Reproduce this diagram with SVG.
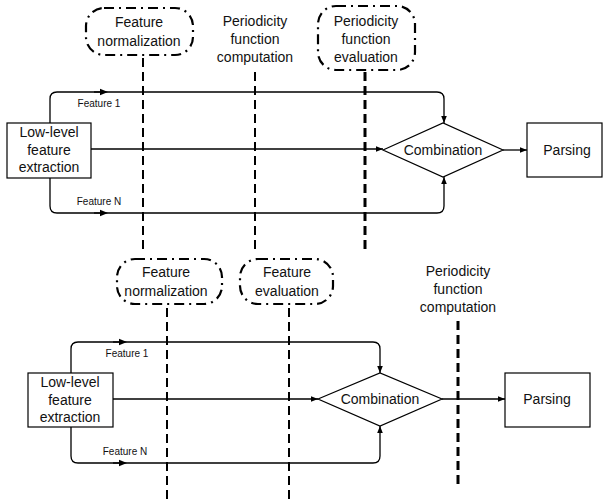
<svg xmlns="http://www.w3.org/2000/svg" width="603" height="501" viewBox="0 0 603 501">
<defs>
<marker id="ah" viewBox="0 0 10 10" refX="10" refY="5" markerWidth="7" markerHeight="7" markerUnits="userSpaceOnUse" orient="auto">
<path d="M0,1 L10,5 L0,9 Z" fill="#000"/>
</marker>
<marker id="mid" viewBox="0 0 10 10" refX="5" refY="5" markerWidth="8" markerHeight="8" markerUnits="userSpaceOnUse" orient="auto">
<path d="M0,1 L10,5 L0,9 Z" fill="#000"/>
</marker>
</defs>
<style>
text{font-family:"Liberation Sans",Arial,sans-serif;fill:#111;text-anchor:middle}
.t{font-size:14px}
.s{font-size:10px}
.box{fill:#fff;stroke:#000;stroke-width:1.2}
.ln{fill:none;stroke:#000;stroke-width:1.3}
.bub{fill:none;stroke:#000;stroke-width:2.2;stroke-dasharray:10,5,2,5}
.dv{fill:none;stroke:#000;stroke-width:2;stroke-dasharray:9,5}
.dvt{fill:none;stroke:#000;stroke-width:3;stroke-dasharray:9,5}
</style>
<rect width="603" height="501" fill="#fff"/>

<g id="connectors">
<path class="ln" d="M50,123 V99 Q50,92 57,92 H437 Q444,92 444,99 V123" marker-end="url(#ah)"/>
<path class="ln" d="M50,178 V206 Q50,213 57,213 H437 Q444,213 444,206 V177" marker-end="url(#ah)"/>
<path class="ln" d="M91,149 H383" marker-end="url(#ah)"/>
<path class="ln" d="M503,150 H527" marker-end="url(#ah)"/>
<path class="ln" d="M94,92 H104" marker-end="url(#mid)"/>
<path class="ln" d="M94,213 H104" marker-end="url(#mid)"/>
<path class="ln" d="M71,373 V349 Q71,342 78,342 H373 Q380,342 380,349 V373" marker-end="url(#ah)"/>
<path class="ln" d="M71,427 V456 Q71,463 78,463 H373 Q380,463 380,456 V426" marker-end="url(#ah)"/>
<path class="ln" d="M113,399 H318" marker-end="url(#ah)"/>
<path class="ln" d="M442,399 H505" marker-end="url(#ah)"/>
<path class="ln" d="M113,342 H123" marker-end="url(#mid)"/>
<path class="ln" d="M113,463 H123" marker-end="url(#mid)"/>
</g>

<g id="stage-lines">
<path class="dv" d="M143,58 V250"/>
<path class="dv" d="M255,72 V250"/>
<path class="dvt" d="M365,72 V250"/>
<path class="dv" d="M167,308 V501"/>
<path class="dv" d="M289,308 V501"/>
<path class="dvt" d="M458,321 V486"/>
</g>

<g id="top-lowlevel">
<rect class="box" x="7" y="123" width="84" height="55"/>
<text class="t" x="49" y="137">Low-level</text>
<text class="t" x="49" y="155">feature</text>
<text class="t" x="49" y="172">extraction</text>
</g>
<g id="top-feature1"><text class="s" x="99" y="107">Feature 1</text></g>
<g id="top-featureN"><text class="s" x="99" y="205">Feature N</text></g>
<g id="top-combination">
<path class="box" d="M383,150 L443,123 L503,150 L443,177 Z"/>
<text class="t" x="443" y="155">Combination</text>
</g>
<g id="top-parsing">
<rect class="box" x="527" y="123" width="75" height="54"/>
<text class="t" x="567" y="155">Parsing</text>
</g>
<g id="top-norm">
<rect class="bub" x="86" y="8" width="107" height="47" rx="18"/>
<text class="t" x="139" y="27">Feature</text>
<text class="t" x="139" y="46">normalization</text>
</g>
<g id="top-pfc">
<text class="t" x="255" y="26">Periodicity</text>
<text class="t" x="255" y="44">function</text>
<text class="t" x="255" y="62">computation</text>
</g>
<g id="top-pfe">
<rect class="bub" x="318" y="6" width="97" height="64" rx="18"/>
<text class="t" x="366" y="26">Periodicity</text>
<text class="t" x="366" y="44">function</text>
<text class="t" x="366" y="62">evaluation</text>
</g>

<g id="bot-lowlevel">
<rect class="box" x="28" y="373" width="85" height="54"/>
<text class="t" x="70" y="387">Low-level</text>
<text class="t" x="70" y="405">feature</text>
<text class="t" x="70" y="422">extraction</text>
</g>
<g id="bot-feature1"><text class="s" x="127" y="357">Feature 1</text></g>
<g id="bot-featureN"><text class="s" x="125" y="455">Feature N</text></g>
<g id="bot-combination">
<path class="box" d="M318,399 L380,373 L442,399 L380,426 Z"/>
<text class="t" x="380" y="404">Combination</text>
</g>
<g id="bot-parsing">
<rect class="box" x="505" y="373" width="85" height="54"/>
<text class="t" x="547" y="404">Parsing</text>
</g>
<g id="bot-norm">
<rect class="bub" x="117" y="259" width="105" height="45" rx="18"/>
<text class="t" x="166" y="277">Feature</text>
<text class="t" x="166" y="296">normalization</text>
</g>
<g id="bot-eval">
<rect class="bub" x="240" y="259" width="93" height="45" rx="18"/>
<text class="t" x="287" y="277">Feature</text>
<text class="t" x="287" y="296">evaluation</text>
</g>
<g id="bot-pfc">
<text class="t" x="458" y="276">Periodicity</text>
<text class="t" x="458" y="294">function</text>
<text class="t" x="458" y="312">computation</text>
</g>
</svg>
